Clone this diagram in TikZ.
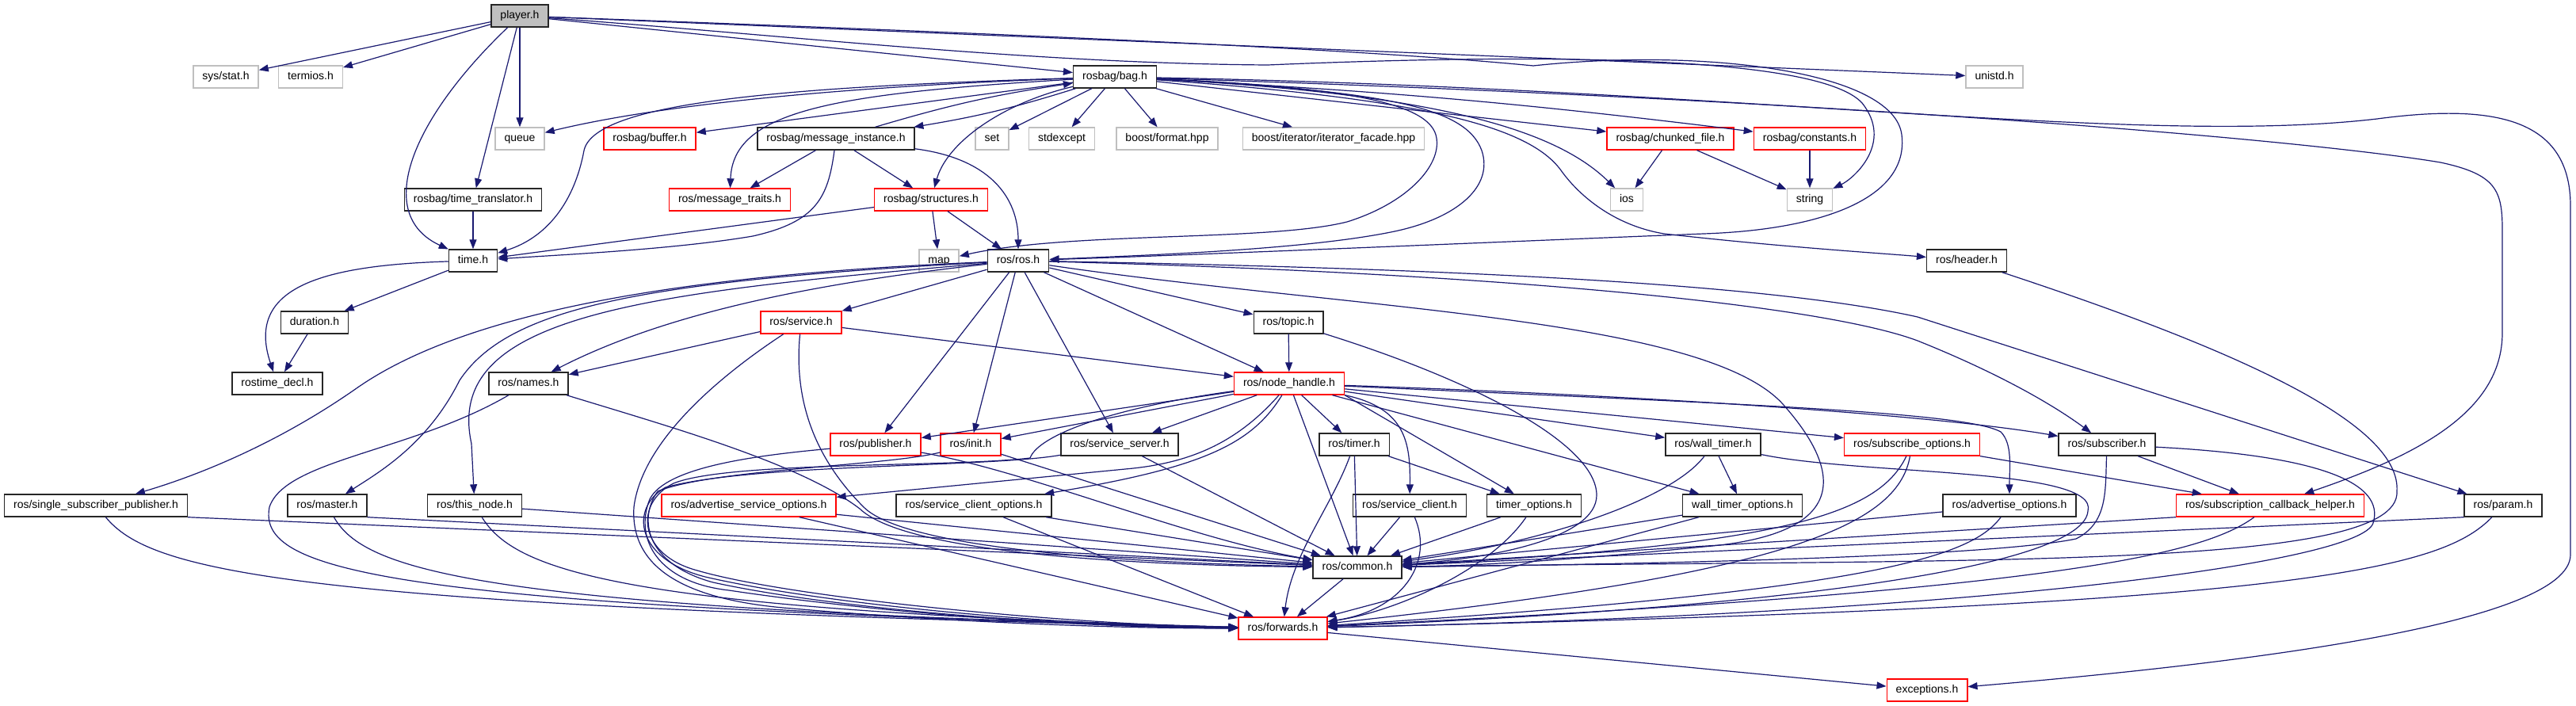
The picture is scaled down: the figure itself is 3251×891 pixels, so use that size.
\documentclass[tikz,border=0pt]{standalone}
\usepackage{fontspec}
\setmainfont{Liberation Sans}
\usetikzlibrary{arrows.meta}
\definecolor{edgecol}{RGB}{25,25,112}
\definecolor{extcol}{RGB}{191,191,191}
\definecolor{curfill}{RGB}{191,191,191}
\definecolor{redcol}{RGB}{255,0,0}
\begin{document}
\begin{tikzpicture}[x=1pt,y=-1pt,
  box/.style={rectangle, minimum height=28pt, inner xsep=11.5pt, inner ysep=0pt, text height=10.5pt, text depth=3pt, font=\fontsize{14pt}{16pt}\selectfont, line width=1.4pt},
  blk/.style={box, draw=black!85},
  redb/.style={box, draw=redcol},
  ext/.style={box, draw=extcol},
  cur/.style={box, draw=black!85, fill=curfill},
  lnk/.style={draw=edgecol, line width=1.2pt, -{Triangle[length=12pt,width=9pt]}},
]
\fill[white] (0,0) rectangle (3251,891);
\useasboundingbox (0,0) rectangle (3251,891);

% nodes
\node[cur] (player) at (656,20) {player.h};
\node[ext] (sysstat) at (285,97) {sys/stat.h};
\node[ext] (termios) at (392,97) {termios.h};
\node[blk] (bag) at (1407,97) {rosbag/bag.h};
\node[ext] (unistd) at (2517,97) {unistd.h};
\node[ext] (queue) at (656,175) {queue};
\node[redb] (buffer) at (820,175) {rosbag/buffer.h};
\node[blk] (msginst) at (1055,175) {rosbag/message\_instance.h};
\node[ext] (set) at (1252,175) {set};
\node[ext] (stdexcept) at (1340,175) {stdexcept};
\node[ext] (format) at (1473,175) {boost/format.hpp};
\node[ext] (iterfac) at (1683,175) {boost/iterator/iterator\_facade.hpp};
\node[redb] (chunked) at (2108,175) {rosbag/chunked\_file.h};
\node[redb] (constants) at (2284,175) {rosbag/constants.h};
\node[blk] (timetrans) at (597,252) {rosbag/time\_translator.h};
\node[redb] (msgtraits) at (921,252) {ros/message\_traits.h};
\node[redb] (structures) at (1175,252) {rosbag/structures.h};
\node[ext] (ios) at (2053,252) {ios};
\node[ext] (string) at (2284,252) {string};
\node[blk] (time) at (597,329) {time.h};
\node[ext] (map) at (1185,329) {map};
\node[blk] (rosros) at (1285,329) {ros/ros.h};
\node[blk] (header) at (2482,329) {ros/header.h};
\node[blk] (duration) at (397,407) {duration.h};
\node[redb] (service) at (1011,407) {ros/service.h};
\node[blk] (topic) at (1626,407) {ros/topic.h};
\node[blk] (rostimedecl) at (350,484) {rostime\_decl.h};
\node[blk] (names) at (667,484) {ros/names.h};
\node[redb] (nodehandle) at (1627,484) {ros/node\_handle.h};
\node[redb] (publisher) at (1105,561) {ros/publisher.h};
\node[redb] (init) at (1225,561) {ros/init.h};
\node[blk] (servserver) at (1413,561) {ros/service\_server.h};
\node[blk] (timer) at (1709,561) {ros/timer.h};
\node[blk] (walltimer) at (2162,561) {ros/wall\_timer.h};
\node[redb] (subopts) at (2413,561) {ros/subscribe\_options.h};
\node[blk] (subscriber) at (2659,561) {ros/subscriber.h};
\node[blk] (singlesub) at (121,638) {ros/single\_subscriber\_publisher.h};
\node[blk] (master) at (413,638) {ros/master.h};
\node[blk] (thisnode) at (599,638) {ros/this\_node.h};
\node[redb] (advservopts) at (945,638) {ros/advertise\_service\_options.h};
\node[blk] (servclientopts) at (1229,638) {ros/service\_client\_options.h};
\node[blk] (servclient) at (1779,638) {ros/service\_client.h};
\node[blk] (timeropts) at (1936,638) {timer\_options.h};
\node[blk] (walltimeropts) at (2199,638) {wall\_timer\_options.h};
\node[blk] (advopts) at (2536,638) {ros/advertise\_options.h};
\node[redb] (sch) at (2865,638) {ros/subscription\_callback\_helper.h};
\node[blk] (param) at (3159,638) {ros/param.h};
\node[blk] (common) at (1713,716) {ros/common.h};
\node[redb] (forwards) at (1619,793) {ros/forwards.h};
\node[redb] (exceptions) at (2432,871) {exceptions.h};

% player.h
\draw[lnk] (player) -- (sysstat);
\draw[lnk] (player) -- (termios);
\draw[lnk] (player) .. controls (520,150) and (470,270) .. (time);
\draw[lnk] (player) -- (timetrans);
\draw[lnk] (player) -- (queue);
\draw[lnk] (player) -- (bag);
\draw[lnk] (player) -- (unistd);
\draw[lnk] (player) .. controls (1000,45) and (1300,80) .. (1600,82) .. controls (2000,65) and (2300,75) .. (2350,130) .. controls (2390,180) and (2340,225) .. (string);
\draw[lnk] (player) .. controls (1200,40) and (1700,60) .. (1935,83) .. controls (2150,60) and (2390,90) .. (2400,170) .. controls (2410,250) and (2300,290) .. (2150,295) .. controls (1900,305) and (1500,322) .. (rosros);

% rosbag/bag.h
\draw[lnk] (bag) .. controls (1100,108) and (850,128) .. (queue);
\draw[lnk] (bag) .. controls (980,110) and (750,130) .. (737,190) .. controls (725,255) and (690,300) .. (time);
\draw[lnk] (bag) -- (buffer);
\draw[lnk] (bag) .. controls (1050,118) and (925,140) .. (msgtraits);
\draw[lnk] (bag) to[bend left=4] (msginst);
\draw[lnk] (msginst) to[bend left=4] (bag);
\draw[lnk] (bag) .. controls (1265,130) and (1195,180) .. (structures);
\draw[lnk] (bag) -- (set);
\draw[lnk] (bag) -- (stdexcept);
\draw[lnk] (bag) -- (format);
\draw[lnk] (bag) -- (iterfac);
\draw[lnk] (bag) -- (chunked);
\draw[lnk] (bag) to[bend left=2] (constants);
\draw[lnk] (bag) .. controls (1800,118) and (1960,160) .. (ios);
\draw[lnk] (bag) .. controls (1700,110) and (1800,130) .. (1812,170) .. controls (1822,205) and (1780,255) .. (1700,280) .. controls (1600,305) and (1350,292) .. (map);
\draw[lnk] (bag) .. controls (1750,115) and (1850,135) .. (1870,190) .. controls (1885,235) and (1840,275) .. (1760,292) .. controls (1650,315) and (1450,322) .. (rosros);
\draw[lnk] (bag) .. controls (1800,125) and (1930,160) .. (1970,215) .. controls (1995,250) and (2040,285) .. (2100,295) .. controls (2250,312) and (2380,320) .. (header);
\draw[lnk] (bag) .. controls (2200,112) and (2700,185) .. (3000,150) .. controls (3150,130) and (3244,150) .. (3244,260) -- (3244,700) .. controls (3244,790) and (2800,840) .. (exceptions);
\draw[lnk] (bag) .. controls (2300,125) and (2900,175) .. (3080,205) .. controls (3150,220) and (3158,240) .. (3158,290) -- (3158,420) .. controls (3158,520) and (3050,575) .. (sch);

% message_instance, structures, misc
\draw[lnk] (msginst) -- (msgtraits);
\draw[lnk] (msginst) -- (structures);
\draw[lnk] (msginst) .. controls (1045,250) and (1030,280) .. (950,298) .. controls (850,315) and (700,322) .. (time);
\draw[lnk] (msginst) .. controls (1250,200) and (1285,250) .. (rosros);
\draw[lnk] (structures) -- (map);
\draw[lnk] (structures) -- (rosros);
\draw[lnk] (structures) -- (time);
\draw[lnk] (timetrans) -- (time);
\draw[lnk] (chunked) -- (ios);
\draw[lnk] (chunked) -- (string);
\draw[lnk] (constants) -- (string);
\draw[lnk] (time) -- (duration);
\draw[lnk] (time) .. controls (400,335) and (310,365) .. (rostimedecl);
\draw[lnk] (duration) -- (rostimedecl);

% ros/ros.h
\draw[lnk] (rosros) -- (service);
\draw[lnk] (rosros) -- (topic);
\draw[lnk] (rosros) -- (nodehandle);
\draw[lnk] (rosros) -- (publisher);
\draw[lnk] (rosros) -- (init);
\draw[lnk] (rosros) -- (servserver);
\draw[lnk] (rosros) .. controls (1900,345) and (2300,385) .. (2420,430) .. controls (2520,470) and (2590,510) .. (subscriber);
\draw[lnk] (rosros) .. controls (1900,340) and (2250,362) .. (2420,400) -- (param);
\draw[lnk] (rosros) .. controls (1050,355) and (850,390) .. (names);
\draw[lnk] (rosros) .. controls (900,345) and (600,385) .. (450,490) .. controls (350,560) and (250,600) .. (singlesub);
\draw[lnk] (rosros) .. controls (800,355) and (640,390) .. (580,480) .. controls (540,560) and (480,595) .. (master);
\draw[lnk] (rosros) .. controls (800,370) and (560,400) .. (595,560) -- (thisnode);
\draw[lnk] (rosros) .. controls (1700,390) and (2150,400) .. (2250,510) .. controls (2330,600) and (2330,675) .. (2150,690) .. controls (1950,710) and (1850,714) .. (common);

% topic, service, names
\draw[lnk] (topic) -- (nodehandle);
\draw[lnk] (topic) .. controls (1860,480) and (2015,560) .. (2015,625) .. controls (2015,680) and (1880,705) .. (common);
\draw[lnk] (service) -- (names);
\draw[lnk] (service) -- (nodehandle);
\draw[lnk] (service) .. controls (900,480) and (810,560) .. (800,640) .. controls (795,720) and (870,758) .. (1000,768) .. controls (1200,785) and (1400,793) .. (forwards);
\draw[lnk] (service) .. controls (1000,520) and (1040,590) .. (1090,640) .. controls (1150,700) and (1500,712) .. (common);
\draw[lnk] (names) .. controls (850,540) and (1010,585) .. (1085,642) .. controls (1150,705) and (1500,714) .. (common);
\draw[lnk] (names) .. controls (520,570) and (360,580) .. (340,640) .. controls (325,720) and (480,765) .. (forwards);

% node_handle
\draw[lnk] (nodehandle) -- (publisher);
\draw[lnk] (nodehandle) -- (init);
\draw[lnk] (nodehandle) -- (servserver);
\draw[lnk] (nodehandle) -- (timer);
\draw[lnk] (nodehandle) -- (walltimer);
\draw[lnk] (nodehandle) -- (subopts);
\draw[lnk] (nodehandle) .. controls (2100,500) and (2450,525) .. (subscriber);
\draw[lnk] (nodehandle) .. controls (2200,510) and (2480,520) .. (2525,545) .. controls (2540,560) and (2536,590) .. (advopts);
\draw[lnk] (nodehandle) .. controls (1775,515) and (1780,560) .. (servclient);
\draw[lnk] (nodehandle.south east) -- (timeropts);
\draw[lnk] (nodehandle) -- (walltimeropts);
\draw[lnk] (nodehandle) -- (common);
\draw[lnk] (nodehandle) .. controls (1560,560) and (1500,585) .. (1420,592) -- (advservopts);
\draw[lnk] (nodehandle) .. controls (1580,560) and (1520,590) .. (servclientopts);
\draw[lnk] (nodehandle) .. controls (1400,515) and (1310,550) .. (1300,578) .. controls (1200,590) and (920,582) .. (850,610) .. controls (800,635) and (805,700) .. (880,720) .. controls (1000,755) and (1350,788) .. (forwards);

% row 7 to common / forwards
\draw[lnk] (servserver) .. controls (1250,590) and (950,585) .. (840,615) .. controls (795,640) and (800,705) .. (890,728) .. controls (1050,765) and (1350,790) .. (forwards);
\draw[lnk] (init) .. controls (1120,588) and (900,592) .. (830,620) .. controls (805,655) and (815,712) .. (900,735) .. controls (1060,770) and (1350,791) .. (forwards);
\draw[lnk] (publisher) .. controls (950,575) and (840,590) .. (820,630) .. controls (800,680) and (830,735) .. (920,745) .. controls (1100,772) and (1350,792) .. (forwards);
\draw[lnk] (publisher) .. controls (1300,595) and (1500,680) .. (common);
\draw[lnk] (init) -- (common);
\draw[lnk] (servserver) -- (common);
\draw[lnk] (timer) -- (timeropts);
\draw[lnk] (timer) -- (common);
\draw[lnk] (timer) .. controls (1680,640) and (1630,700) .. (forwards);
\draw[lnk] (walltimer) -- (walltimeropts);
\draw[lnk] (walltimer) .. controls (2110,630) and (1950,685) .. (common);
\draw[lnk] (walltimer) .. controls (2350,600) and (2650,590) .. (2635,645) .. controls (2630,710) and (2300,765) .. (forwards);
\draw[lnk] (subopts) -- (sch);
\draw[lnk] (subopts) .. controls (2370,650) and (2250,688) .. (common);
\draw[lnk] (subopts) .. controls (2395,665) and (2250,725) .. (forwards);
\draw[lnk] (subscriber) -- (sch);
\draw[lnk] (subscriber) .. controls (2657,620) and (2660,660) .. (2620,680) .. controls (2500,705) and (2000,713) .. (common);
\draw[lnk] (subscriber) .. controls (2930,575) and (3010,610) .. (2995,660) .. controls (2980,710) and (2500,775) .. (forwards);
\draw[lnk] (header) .. controls (2850,450) and (3030,540) .. (3025,620) .. controls (3030,720) and (2500,705) .. (common);

% row 8 to common / forwards
\draw[lnk] (singlesub.south east) -- (common);
\draw[lnk] (singlesub) .. controls (190,720) and (350,765) .. (forwards);
\draw[lnk] (master.south east) -- (common);
\draw[lnk] (master) .. controls (460,720) and (600,768) .. (forwards);
\draw[lnk] (thisnode) -- (common);
\draw[lnk] (thisnode) .. controls (650,720) and (780,770) .. (forwards);
\draw[lnk] (advservopts) -- (common);
\draw[lnk] (advservopts) -- (forwards);
\draw[lnk] (servclientopts) -- (common);
\draw[lnk] (servclientopts) -- (forwards);
\draw[lnk] (servclient) -- (common);
\draw[lnk] (servclient) .. controls (1810,710) and (1770,770) .. (forwards);
\draw[lnk] (timeropts) -- (common);
\draw[lnk] (timeropts) .. controls (1880,720) and (1760,772) .. (forwards);
\draw[lnk] (walltimeropts) -- (common);
\draw[lnk] (walltimeropts) -- (forwards);
\draw[lnk] (advopts) -- (common);
\draw[lnk] (advopts) .. controls (2490,700) and (2380,745) .. (forwards);
\draw[lnk] (sch.south west) -- (common);
\draw[lnk] (sch) .. controls (2780,700) and (2600,745) .. (forwards);
\draw[lnk] (param.south west) -- (common);
\draw[lnk] (param) .. controls (3080,720) and (2900,765) .. (forwards);
\draw[lnk] (common) -- (forwards);
\draw[lnk] (forwards) -- (exceptions);
\end{tikzpicture}
\end{document}
